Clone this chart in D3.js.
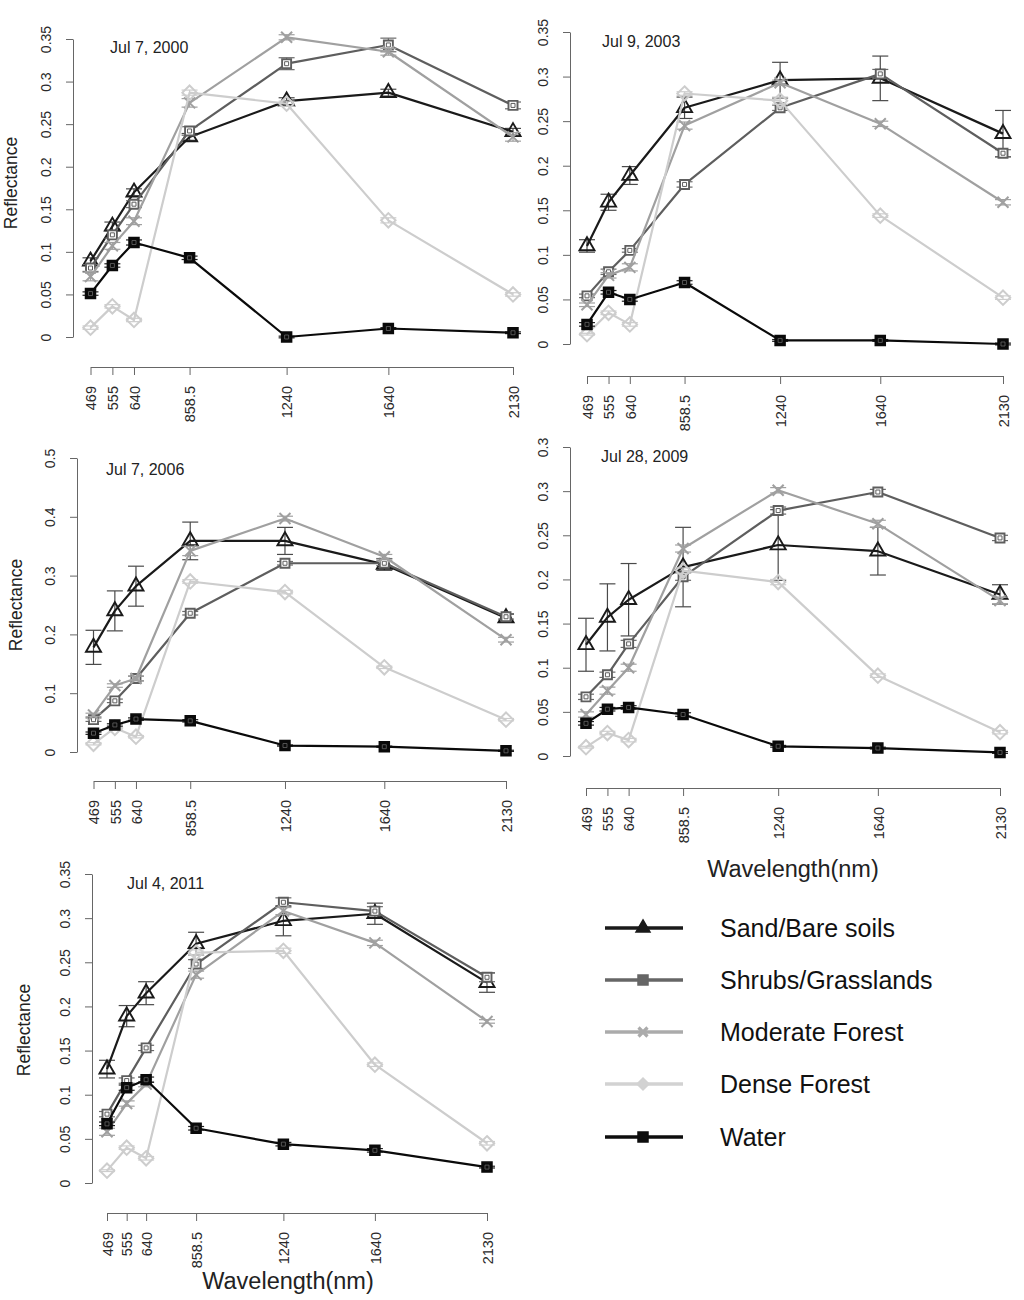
<!DOCTYPE html>
<html>
<head>
<meta charset="utf-8">
<script src="https://cdn.jsdelivr.net/npm/d3@7"></script>
<style>
  html, body { margin: 0; padding: 0; background: #fff; }
  svg { display: block; font-family: "Liberation Sans", Arial, Helvetica, sans-serif; }
</style>
</head>
<body>
<svg id="chart" width="1024" height="1300"></svg>
<script>
// ---------------- DATA ----------------
const wavelengths = [469, 555, 640, 858.5, 1240, 1640, 2130];
const wavelengthLabels = ["469", "555", "640", "858.5", "1240", "1640", "2130"];
const seriesNames = ["Sand/Bare soils", "Shrubs/Grasslands", "Moderate Forest", "Dense Forest", "Water"];
const panelDates = ["Jul 7, 2000", "Jul 9, 2003", "Jul 7, 2006", "Jul 28, 2009", "Jul 4, 2011"];

const yTicks035 = [0, 0.05, 0.1, 0.15, 0.2, 0.25, 0.3, 0.35];
const yTickLabels035 = ["0", "0.05", "0.1", "0.15", "0.2", "0.25", "0.3", "0.35"];
const yTicks05 = [0, 0.1, 0.2, 0.3, 0.4, 0.5];
const yTickLabels05 = ["0", "0.1", "0.2", "0.3", "0.4", "0.5"];
const yTickLabels2009 = ["0", "0.05", "0.1", "0.15", "0.2", "0.25", "0.3", "0.3"];

// Jul 7, 2000
const sand2000 = [0.089, 0.130, 0.170, 0.235, 0.277, 0.287, 0.241];
const sandErr2000 = [0.004, 0.005, 0.004, 0.004, 0.004, 0.004, 0.004];
const shrubs2000 = [0.081, 0.120, 0.156, 0.242, 0.321, 0.343, 0.272];
const shrubsErr2000 = [0.004, 0.004, 0.004, 0.005, 0.007, 0.008, 0.004];
const moderate2000 = [0.071, 0.107, 0.136, 0.275, 0.352, 0.335, 0.235];
const moderateErr2000 = [0.005, 0.004, 0.004, 0.005, 0.003, 0.004, 0.005];
const dense2000 = [0.011, 0.036, 0.020, 0.287, 0.274, 0.137, 0.050];
const denseErr2000 = [0.002, 0.002, 0.002, 0.003, 0.003, 0.003, 0.002];
const water2000 = [0.051, 0.084, 0.111, 0.093, 0.000, 0.010, 0.005];
const waterErr2000 = [0.002, 0.002, 0.003, 0.002, 0.001, 0.001, 0.001];

// Jul 9, 2003
const sand2003 = [0.110, 0.159, 0.189, 0.265, 0.296, 0.298, 0.236];
const sandErr2003 = [0.007, 0.009, 0.010, 0.012, 0.020, 0.025, 0.026];
const shrubs2003 = [0.054, 0.081, 0.105, 0.179, 0.265, 0.303, 0.214];
const shrubsErr2003 = [0.002, 0.003, 0.002, 0.003, 0.003, 0.005, 0.004];
const moderate2003 = [0.044, 0.077, 0.086, 0.245, 0.293, 0.247, 0.159];
const moderateErr2003 = [0.002, 0.003, 0.004, 0.004, 0.003, 0.003, 0.003];
const dense2003 = [0.011, 0.035, 0.022, 0.281, 0.273, 0.144, 0.052];
const denseErr2003 = [0.001, 0.002, 0.002, 0.002, 0.004, 0.002, 0.002];
const water2003 = [0.022, 0.058, 0.050, 0.069, 0.004, 0.004, 0.000];
const waterErr2003 = [0.002, 0.002, 0.002, 0.002, 0.001, 0.001, 0.001];

// Jul 7, 2006
const sand2006 = [0.178, 0.240, 0.282, 0.359, 0.359, 0.319, 0.228];
const sandErr2006 = [0.029, 0.034, 0.034, 0.032, 0.023, 0.010, 0.007];
const shrubs2006 = [0.055, 0.087, 0.125, 0.236, 0.321, 0.321, 0.230];
const shrubsErr2006 = [0.003, 0.003, 0.004, 0.003, 0.003, 0.004, 0.004];
const moderate2006 = [0.063, 0.113, 0.125, 0.342, 0.397, 0.332, 0.191];
const moderateErr2006 = [0.003, 0.003, 0.004, 0.008, 0.004, 0.004, 0.004];
const dense2006 = [0.014, 0.041, 0.026, 0.290, 0.272, 0.144, 0.055];
const denseErr2006 = [0.002, 0.002, 0.002, 0.003, 0.003, 0.002, 0.002];
const water2006 = [0.032, 0.046, 0.056, 0.053, 0.011, 0.009, 0.002];
const waterErr2006 = [0.002, 0.002, 0.002, 0.002, 0.001, 0.001, 0.001];

// Jul 28, 2009
const sand2009 = [0.126, 0.157, 0.177, 0.214, 0.239, 0.232, 0.183];
const sandErr2009 = [0.030, 0.038, 0.041, 0.045, 0.040, 0.027, 0.011];
const shrubs2009 = [0.067, 0.092, 0.127, 0.203, 0.278, 0.299, 0.247];
const shrubsErr2009 = [0.003, 0.003, 0.004, 0.004, 0.004, 0.003, 0.003];
const moderate2009 = [0.047, 0.074, 0.100, 0.235, 0.301, 0.263, 0.176];
const moderateErr2009 = [0.003, 0.004, 0.004, 0.004, 0.003, 0.004, 0.004];
const dense2009 = [0.010, 0.026, 0.018, 0.210, 0.197, 0.091, 0.027];
const denseErr2009 = [0.001, 0.002, 0.002, 0.003, 0.003, 0.002, 0.002];
const water2009 = [0.037, 0.053, 0.055, 0.047, 0.011, 0.009, 0.004];
const waterErr2009 = [0.002, 0.002, 0.002, 0.002, 0.001, 0.001, 0.001];

// Jul 4, 2011
const sand2011 = [0.129, 0.189, 0.215, 0.271, 0.297, 0.305, 0.227];
const sandErr2011 = [0.010, 0.012, 0.013, 0.013, 0.017, 0.012, 0.011];
const shrubs2011 = [0.078, 0.116, 0.153, 0.248, 0.318, 0.308, 0.233];
const shrubsErr2011 = [0.003, 0.003, 0.003, 0.005, 0.005, 0.005, 0.005];
const moderate2011 = [0.058, 0.090, 0.112, 0.236, 0.308, 0.272, 0.183];
const moderateErr2011 = [0.004, 0.003, 0.003, 0.004, 0.004, 0.003, 0.002];
const dense2011 = [0.014, 0.040, 0.028, 0.261, 0.263, 0.134, 0.045];
const denseErr2011 = [0.001, 0.002, 0.002, 0.003, 0.003, 0.002, 0.002];
const water2011 = [0.067, 0.108, 0.117, 0.062, 0.044, 0.037, 0.018];
const waterErr2011 = [0.002, 0.003, 0.003, 0.002, 0.002, 0.002, 0.001];

// ---------------- STYLE / LAYOUT ----------------
const seriesStyle = [
  { color: "#1a1a1a", err: "#4a4a4a", marker: "triangle", legendColor: "#1a1a1a" },
  { color: "#5e5e5e", err: "#6a6a6a", marker: "squareplus", legendColor: "#666666" },
  { color: "#a0a0a0", err: "#a0a0a0", marker: "x", legendColor: "#ababab" },
  { color: "#cdcdcd", err: "#cdcdcd", marker: "diamond", legendColor: "#d2d2d2" },
  { color: "#0a0a0a", err: "#222222", marker: "squarefill", legendColor: "#0d0d0d" }
];

const panelValues = [
  [sand2000, shrubs2000, moderate2000, dense2000, water2000],
  [sand2003, shrubs2003, moderate2003, dense2003, water2003],
  [sand2006, shrubs2006, moderate2006, dense2006, water2006],
  [sand2009, shrubs2009, moderate2009, dense2009, water2009],
  [sand2011, shrubs2011, moderate2011, dense2011, water2011]
];
const panelErrors = [
  [sandErr2000, shrubsErr2000, moderateErr2000, denseErr2000, waterErr2000],
  [sandErr2003, shrubsErr2003, moderateErr2003, denseErr2003, waterErr2003],
  [sandErr2006, shrubsErr2006, moderateErr2006, denseErr2006, waterErr2006],
  [sandErr2009, shrubsErr2009, moderateErr2009, denseErr2009, waterErr2009],
  [sandErr2011, shrubsErr2011, moderateErr2011, denseErr2011, waterErr2011]
];
const panelTicks = [
  [yTicks035, yTickLabels035],
  [yTicks035, yTickLabels035],
  [yTicks05, yTickLabels05],
  [yTicks035, yTickLabels2009],
  [yTicks035, yTickLabels035]
];

// pixel layout of each panel
const layout = [
  { ax: 73, x0: 90.5, x1: 513, y0: 337, y1: 39, xAxisY: 367, tx: 110, ty: 53, ylab: { x: 17, y: 183 }, xlab: null },
  { ax: 570, x0: 587, x1: 1003, y0: 344, y1: 32, xAxisY: 376, tx: 602, ty: 47, ylab: null, xlab: null },
  { ax: 77, x0: 93.5, x1: 506, y0: 752, y1: 458, xAxisY: 781, tx: 106, ty: 475, ylab: { x: 22, y: 605 }, xlab: null },
  { ax: 570, x0: 586, x1: 1000, y0: 756, y1: 447, xAxisY: 788, tx: 601, ty: 462, ylab: null, xlab: { x: 793, y: 877 } },
  { ax: 92, x0: 107, x1: 487, y0: 1183, y1: 874, xAxisY: 1213, tx: 127, ty: 889, ylab: { x: 30, y: 1030 }, xlab: { x: 288, y: 1289 } }
];

// ---------------- DRAW ----------------
const svg = d3.select("#chart");

function markerPath(type, s) {
  const h = s / 2;
  switch (type) {
    case "triangle": {
      const r = s * 0.62;
      return `M0,${-r}L${r * 0.866},${r * 0.5}L${-r * 0.866},${r * 0.5}Z`;
    }
    case "diamond":
      return `M0,${-h * 1.2}L${h * 1.2},0L0,${h * 1.2}L${-h * 1.2},0Z`;
    case "x":
      return `M${-h},${-h}L${h},${h}M${-h},${h}L${h},${-h}`;
    default:
      return `M${-h},${-h}H${h}V${h}H${-h}Z`;
  }
}

function drawMarker(g, type, cx, cy, color, legend) {
  const m = g.append("g").attr("transform", `translate(${cx},${cy})`);
  if (legend) {
    if (type === "x") {
      m.append("path").attr("d", markerPath("x", 9)).attr("stroke", color).attr("stroke-width", 3.2).attr("fill", "none");
    } else if (type === "triangle") {
      m.append("path").attr("d", markerPath("triangle", 13)).attr("fill", color).attr("stroke", color).attr("stroke-width", 1.5);
    } else if (type === "diamond") {
      m.append("path").attr("d", markerPath("diamond", 10)).attr("fill", color).attr("stroke", color).attr("stroke-width", 1.5);
    } else {
      m.append("path").attr("d", markerPath("square", 10)).attr("fill", color).attr("stroke", color).attr("stroke-width", 1.5);
    }
    return;
  }
  if (type === "triangle") {
    m.append("path").attr("d", markerPath("triangle", 14)).attr("fill", "none")
      .attr("stroke", color).attr("stroke-width", 1.9);
  } else if (type === "diamond") {
    m.append("path").attr("d", markerPath("diamond", 12)).attr("fill", "none")
      .attr("stroke", color).attr("stroke-width", 2);
  } else if (type === "x") {
    m.append("path").attr("d", markerPath("x", 11)).attr("fill", "none")
      .attr("stroke", color).attr("stroke-width", 2);
  } else if (type === "squareplus") {
    m.append("path").attr("d", markerPath("square", 9)).attr("fill", "#fff")
      .attr("stroke", color).attr("stroke-width", 1.9);
    m.append("path").attr("d", "M-2,-2H2V2H-2Z").attr("fill", "none").attr("stroke", color).attr("stroke-width", 1);
  } else {
    m.append("path").attr("d", markerPath("square", 10)).attr("fill", color)
      .attr("stroke", color).attr("stroke-width", 1.5);
    m.append("path").attr("d", "M-2,-2H2V2H-2Z").attr("fill", "none").attr("stroke", "#666").attr("stroke-width", 0.8);
  }
}

layout.forEach((L, p) => {
  const g = svg.append("g");
  const [ticks, tickLabels] = panelTicks[p];
  const x = d3.scaleLinear().domain([wavelengths[0], wavelengths[wavelengths.length - 1]]).range([L.x0, L.x1]);
  const y = d3.scaleLinear().domain([0, ticks[ticks.length - 1]]).range([L.y0, L.y1]);

  // y axis
  const yAxis = d3.axisLeft(y).tickValues(ticks).tickFormat((d, i) => tickLabels[i]).tickSize(7).tickSizeOuter(0);
  const ya = g.append("g").attr("transform", `translate(${L.ax},0)`).call(yAxis);
  ya.select(".domain").attr("stroke", "#666").attr("stroke-width", 1);
  ya.selectAll(".tick line").attr("stroke", "#666").attr("stroke-width", 1);
  ya.selectAll(".tick text")
    .attr("transform", "rotate(-90)")
    .attr("x", 0).attr("y", -22).attr("dy", 0)
    .attr("text-anchor", "middle")
    .attr("fill", "#2a2a2a")
    .style("font-size", "14px")
    .style("font-family", "'Liberation Sans', Arial, sans-serif");

  // x axis
  const xAxis = d3.axisBottom(x).tickValues(wavelengths).tickFormat((d, i) => wavelengthLabels[i]).tickSize(8).tickSizeOuter(0);
  const xa = g.append("g").attr("transform", `translate(0,${L.xAxisY})`).call(xAxis);
  xa.select(".domain").attr("stroke", "#666").attr("stroke-width", 1);
  xa.selectAll(".tick line").attr("stroke", "#666").attr("stroke-width", 1);
  xa.selectAll(".tick text")
    .attr("transform", "rotate(-90)")
    .attr("x", -19).attr("y", 0).attr("dy", "0.36em")
    .attr("text-anchor", "end")
    .attr("fill", "#2a2a2a")
    .style("font-size", "14.5px")
    .style("font-family", "'Liberation Sans', Arial, sans-serif");

  // title
  g.append("text").attr("x", L.tx).attr("y", L.ty).text(panelDates[p])
    .attr("fill", "#222").style("font-size", "16px");

  if (L.ylab) {
    g.append("text").attr("transform", `translate(${L.ylab.x},${L.ylab.y}) rotate(-90)`)
      .attr("text-anchor", "middle").attr("fill", "#222").style("font-size", "17.5px").text("Reflectance");
  }
  if (L.xlab) {
    g.append("text").attr("x", L.xlab.x).attr("y", L.xlab.y)
      .attr("text-anchor", "middle").attr("fill", "#222").style("font-size", "23.5px").text("Wavelength(nm)");
  }

  const line = d3.line().x((d, i) => x(wavelengths[i])).y(d => y(d));

  panelValues[p].forEach((vals, s) => {
    const st = seriesStyle[s];
    const errs = panelErrors[p][s];
    const sg = g.append("g");
    // error bars
    vals.forEach((v, i) => {
      const cx = x(wavelengths[i]);
      const yl = y(v - errs[i]), yh = y(v + errs[i]);
      sg.append("line").attr("x1", cx).attr("x2", cx).attr("y1", yl).attr("y2", yh)
        .attr("stroke", st.err).attr("stroke-width", 1.2);
      [yl, yh].forEach(yy => {
        sg.append("line").attr("x1", cx - 8).attr("x2", cx + 8).attr("y1", yy).attr("y2", yy)
          .attr("stroke", st.err).attr("stroke-width", 1.2);
      });
    });
    // line
    sg.append("path").datum(vals).attr("d", line).attr("fill", "none")
      .attr("stroke", st.color).attr("stroke-width", 2.2).attr("stroke-linejoin", "round");
    // markers
    vals.forEach((v, i) => drawMarker(sg, st.marker, x(wavelengths[i]), y(v), st.color, false));
  });
});

// ---------------- LEGEND ----------------
const legendRows = [928, 980, 1032, 1084, 1137];
const leg = svg.append("g");
seriesNames.forEach((name, s) => {
  const st = seriesStyle[s];
  const yy = legendRows[s];
  leg.append("line").attr("x1", 605).attr("x2", 683).attr("y1", yy).attr("y2", yy)
    .attr("stroke", st.legendColor).attr("stroke-width", 3.5);
  drawMarker(leg, st.marker, 643, yy, st.legendColor, true);
  leg.append("text").attr("x", 720).attr("y", yy + 9).text(name)
    .attr("fill", "#111").style("font-size", "25px");
});
</script>
</body>
</html>
